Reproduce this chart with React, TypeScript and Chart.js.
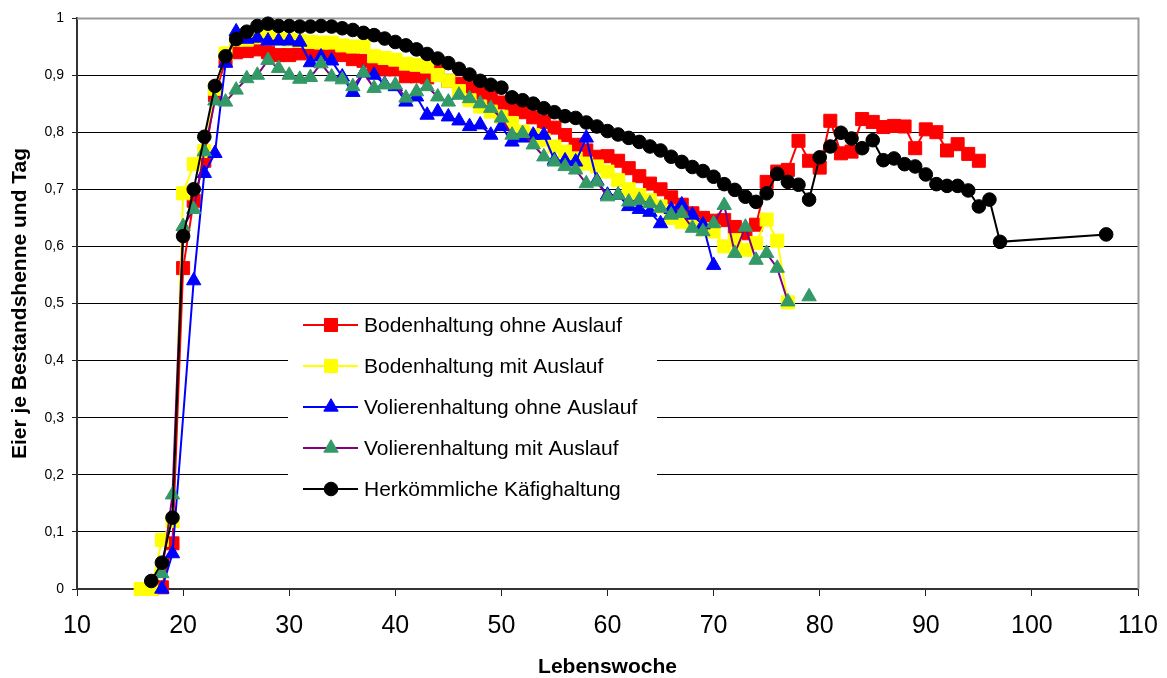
import React, { useEffect, useRef } from 'react';
import { Chart, registerables } from 'chart.js';

Chart.register(...registerables);

// ---------------- data ----------------
const weeks = [
  16, 17, 18, 19, 20, 21, 22, 23, 24, 25,
  26, 27, 28, 29, 30, 31, 32, 33, 34, 35,
  36, 37, 38, 39, 40, 41, 42, 43, 44, 45,
  46, 47, 48, 49, 50, 51, 52, 53, 54, 55,
  56, 57, 58, 59, 60, 61, 62, 63, 64, 65,
  66, 67, 68, 69, 70, 71, 72, 73, 74, 75,
  76, 77, 78, 79, 80, 81, 82, 83, 84, 85,
  86, 87, 88, 89, 90, 91, 92, 93, 94, 95,
  96, 97, 107,
];

const yTickLabels = ['0', '0,1', '0,2', '0,3', '0,4', '0,5', '0,6', '0,7', '0,8', '0,9', '1'];
const xTitle = 'Lebenswoche';
const yTitle = 'Eier je Bestandshenne und Tag';

const seriesNames = [
  'Bodenhaltung ohne Auslauf',
  'Bodenhaltung mit Auslauf',
  'Volierenhaltung ohne Auslauf',
  'Volierenhaltung mit Auslauf',
  'Herkömmliche Käfighaltung',
];

const bodenOhne = [
  null, 0, 0.003, 0.08, 0.562, 0.68, 0.75, 0.865, 0.926, 0.94,
  0.942, 0.945, 0.94, 0.935, 0.935, 0.938, 0.94, 0.94, 0.937, 0.935,
  0.928, 0.925, 0.912, 0.91, 0.91, 0.898, 0.898, 0.896, 0.905, 0.89,
  0.885, 0.877, 0.868, 0.86, 0.852, 0.84, 0.835, 0.826, 0.818, 0.808,
  0.795, 0.778, 0.768, 0.757, 0.758, 0.75, 0.737, 0.723, 0.71, 0.70,
  0.686, 0.673, 0.658, 0.65, 0.645, 0.646, 0.634, 0.623, 0.638, 0.713,
  0.731, 0.734, 0.785, 0.75, 0.738, 0.82, 0.763, 0.766, 0.823, 0.818,
  0.809, 0.811, 0.81, 0.772, 0.805, 0.80, 0.768, 0.779, 0.762, 0.75,
  null, null, null,
];

const bodenMit = [
  0, 0, 0.086, 0.119, 0.693, 0.744, 0.767, 0.876, 0.938, 0.962,
  0.962, 0.966, 0.968, 0.963, 0.962, 0.96, 0.958, 0.957, 0.957, 0.952,
  0.95, 0.95, 0.933, 0.93, 0.927, 0.92, 0.918, 0.915, 0.90, 0.89,
  0.872, 0.856, 0.845, 0.836, 0.827, 0.816, 0.801, 0.795, 0.786, 0.775,
  0.766, 0.754, 0.745, 0.74, 0.731, 0.716, 0.70, 0.69, 0.681, 0.67,
  0.65, 0.643, 0.64, 0.63, 0.626, 0.60, 0.611, 0.594, 0.606, 0.647,
  0.61, 0.502, null, null, null, null, null, null, null, null,
  null, null, null, null, null, null, null, null, null, null,
  null, null, null,
];

const voliereOhne = [
  null, null, 0, 0.062, null, 0.54, 0.728, 0.763, 0.921, 0.976,
  0.963, 0.965, 0.96, 0.96, 0.96, 0.958, 0.922, 0.932, 0.925, 0.897,
  0.87, 0.904, 0.90, 0.884, 0.88, 0.853, 0.862, 0.83, 0.836, 0.827,
  0.82, 0.81, 0.813, 0.795, 0.81, 0.783, 0.79, 0.795, 0.795, 0.751,
  0.75, 0.748, 0.79, 0.715, 0.69, 0.69, 0.67, 0.665, 0.66, 0.64,
  0.665, 0.673, 0.655, 0.638, 0.567, null, null, null, null, null,
  null, null, null, null, null, null, null, null, null, null,
  null, null, null, null, null, null, null, null, null, null,
  null, null, null,
];

const voliereMit = [
  null, null, 0.027, 0.165, 0.635, 0.665, 0.766, 0.855, 0.853, 0.874,
  0.894, 0.90, 0.926, 0.912, 0.90, 0.893, 0.896, 0.92, 0.897, 0.892,
  0.88, 0.904, 0.877, 0.883, 0.883, 0.86, 0.871, 0.88, 0.862, 0.853,
  0.865, 0.859, 0.85, 0.842, 0.825, 0.795, 0.798, 0.778, 0.757, 0.748,
  0.74, 0.734, 0.71, 0.713, 0.687, 0.69, 0.678, 0.681, 0.675, 0.667,
  0.655, 0.658, 0.632, 0.626, 0.64, 0.672, 0.588, 0.634, 0.576, 0.588,
  0.562, 0.503, null, 0.512, null, null, null, null, null, null,
  null, null, null, null, null, null, null, null, null, null,
  null, null, null,
];

const kaefig = [
  null, 0.014, 0.046, 0.125, 0.618, 0.70, 0.792, 0.881, 0.933, 0.963,
  0.976, 0.986, 0.99, 0.986, 0.986, 0.985, 0.985, 0.986, 0.985, 0.982,
  0.979, 0.974, 0.97, 0.964, 0.958, 0.952, 0.945, 0.937, 0.929, 0.921,
  0.911, 0.901, 0.89, 0.883, 0.878, 0.861, 0.856, 0.85, 0.842, 0.835,
  0.828, 0.825, 0.817, 0.81, 0.802, 0.796, 0.79, 0.783, 0.775, 0.768,
  0.757, 0.748, 0.739, 0.732, 0.722, 0.709, 0.699, 0.687, 0.678, 0.693,
  0.727, 0.713, 0.708, 0.682, 0.756, 0.775, 0.799, 0.789, 0.772, 0.786,
  0.751, 0.754, 0.744, 0.74, 0.726, 0.709, 0.706, 0.706, 0.698, 0.67,
  0.682, 0.608, 0.621,
];

// ---------------- styling ----------------
const FONT = "'Liberation Sans', Arial, Helvetica, sans-serif";

type Style = {
  line: string;
  fill: string;
  shape: 'rect' | 'triangle' | 'circle';
  radius: number;
  spanGaps: boolean;
  order: number;
};

const styles: Style[] = [
  { line: '#FF0000', fill: '#FF0000', shape: 'rect', radius: 9.2, spanGaps: false, order: 4 },
  { line: '#FFFF00', fill: '#FFFF00', shape: 'rect', radius: 9.2, spanGaps: false, order: 3 },
  { line: '#0000FF', fill: '#0000FF', shape: 'triangle', radius: 8.3, spanGaps: true, order: 2 },
  { line: '#800080', fill: '#339966', shape: 'triangle', radius: 8.3, spanGaps: false, order: 1 },
  { line: '#000000', fill: '#000000', shape: 'circle', radius: 6.8, spanGaps: false, order: 0 },
];

const seriesValues = [bodenOhne, bodenMit, voliereOhne, voliereMit, kaefig];

function drawMarker(ctx: CanvasRenderingContext2D, shape: string, x: number, y: number, r: number, fill: string) {
  ctx.beginPath();
  if (shape === 'rect') {
    const s = Math.SQRT1_2 * r;
    ctx.rect(x - s, y - s, 2 * s, 2 * s);
  } else if (shape === 'triangle') {
    let rad = 0;
    ctx.moveTo(x + Math.sin(rad) * r, y - Math.cos(rad) * r);
    rad += (2 * Math.PI) / 3;
    ctx.lineTo(x + Math.sin(rad) * r, y - Math.cos(rad) * r);
    rad += (2 * Math.PI) / 3;
    ctx.lineTo(x + Math.sin(rad) * r, y - Math.cos(rad) * r);
    ctx.closePath();
  } else {
    ctx.arc(x, y, r, 0, Math.PI * 2);
  }
  ctx.fillStyle = fill;
  ctx.strokeStyle = fill;
  ctx.lineWidth = 1;
  ctx.fill();
  ctx.stroke();
}

const framePlugin = {
  id: 'frame',
  beforeDatasetsDraw(chart: any) {
    const { ctx, chartArea } = chart;
    ctx.save();
    ctx.strokeStyle = '#9a9a9a';
    ctx.lineWidth = 2;
    ctx.beginPath();
    ctx.moveTo(chartArea.left, chartArea.top + 0.5);
    ctx.lineTo(chartArea.right + 0.5, chartArea.top + 0.5);
    ctx.lineTo(chartArea.right + 0.5, chartArea.bottom);
    ctx.stroke();
    ctx.restore();
  },
};

const legendPlugin = {
  id: 'insideLegend',
  afterDraw(chart: any) {
    const ctx: CanvasRenderingContext2D = chart.ctx;
    ctx.save();
    ctx.fillStyle = '#ffffff';
    ctx.fillRect(288, 307, 369, 203);
    const rowY0 = 325;
    const rowStep = 41;
    chart.data.datasets.forEach((ds: any, i: number) => {
      const st = styles[i];
      const y = rowY0 + i * rowStep;
      ctx.strokeStyle = st.line;
      ctx.lineWidth = 2;
      ctx.beginPath();
      ctx.moveTo(303, y);
      ctx.lineTo(358, y);
      ctx.stroke();
      drawMarker(ctx, st.shape, 331, y, st.radius, st.fill);
      ctx.fillStyle = '#000';
      ctx.font = `21px ${FONT}`;
      ctx.textBaseline = 'middle';
      ctx.textAlign = 'left';
      ctx.fillText(ds.label, 364, y + 1);
    });
    ctx.restore();
  },
};

export default function App() {
  const canvasRef = useRef<HTMLCanvasElement | null>(null);

  useEffect(() => {
    document.body.style.margin = '0';
    const canvas = canvasRef.current;
    if (!canvas) return;

    const datasets = seriesNames.map((name, i) => {
      const st = styles[i];
      return {
        label: name,
        data: weeks.map((w, k) => ({ x: w, y: seriesValues[i][k] })),
        borderColor: st.line,
        backgroundColor: st.fill,
        pointBackgroundColor: st.fill,
        pointBorderColor: st.fill,
        pointBorderWidth: 1,
        pointStyle: st.shape,
        pointRadius: st.radius,
        borderWidth: 2,
        spanGaps: st.spanGaps,
        order: st.order,
        clip: false as any,
        tension: 0,
      };
    });

    const chart = new Chart(canvas, {
      type: 'line',
      data: { datasets },
      options: {
        animation: false,
        responsive: false,
        devicePixelRatio: 1,
        events: [],
        layout: { padding: { left: 0, right: 29, top: 18, bottom: 0 } },
        plugins: {
          legend: { display: false },
          tooltip: { enabled: false },
          title: { display: false },
        },
        scales: {
          x: {
            type: 'linear',
            min: 10,
            max: 110,
            afterFit: (s: any) => {
              s.height = 89;
              s.paddingLeft = 0;
              s.paddingRight = 0;
            },
            ticks: {
              stepSize: 10,
              autoSkip: false,
              maxRotation: 0,
              padding: 15,
              color: '#000',
              font: { family: FONT, size: 25 },
            },
            grid: {
              drawOnChartArea: false,
              drawTicks: true,
              tickLength: 7,
              tickColor: '#222',
              tickWidth: 1,
            },
            border: { display: true, color: '#333', width: 2 },
            title: {
              display: true,
              text: xTitle,
              color: '#000',
              font: { family: FONT, size: 21, weight: 'bold', lineHeight: 1 },
              padding: { top: 0, bottom: 0 },
            },
          },
          y: {
            type: 'linear',
            min: 0,
            max: 1,
            afterFit: (s: any) => {
              s.width = 77;
              s.paddingTop = 0;
              s.paddingBottom = 0;
            },
            ticks: {
              stepSize: 0.1,
              padding: 8,
              color: '#000',
              font: { family: FONT, size: 14 },
              callback: (_v: any, i: number) => yTickLabels[i],
            },
            grid: {
              color: '#000',
              lineWidth: 1,
              drawTicks: true,
              tickLength: 5,
              tickColor: '#222',
            },
            border: { display: true, color: '#333', width: 2 },
            title: {
              display: true,
              text: yTitle,
              color: '#000',
              font: { family: FONT, size: 21, weight: 'bold', lineHeight: 1 },
              padding: { top: 10, bottom: 0 },
            },
          },
        },
      },
      plugins: [framePlugin, legendPlugin],
    });

    return () => {
      chart.destroy();
    };
  }, []);

  return (
    <div style={{ position: 'absolute', left: 0, top: 0, width: 1167, height: 678, background: '#fff' }}>
      <canvas ref={canvasRef} width={1167} height={678} style={{ display: 'block' }} />
    </div>
  );
}
